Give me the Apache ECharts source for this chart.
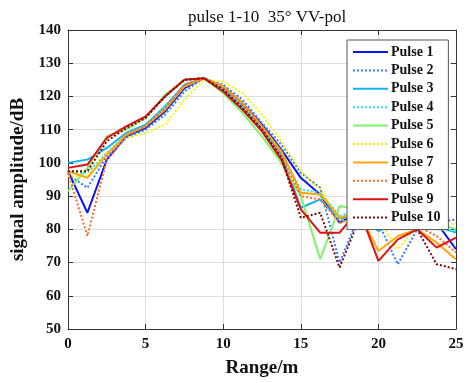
<!DOCTYPE html>
<html>
<head>
<meta charset="utf-8">
<script src="https://cdn.jsdelivr.net/npm/echarts@6/dist/echarts.min.js"></script>
<style>html,body{margin:0;padding:0;background:#fff;}#c{width:474px;height:383px;}</style>
</head>
<body>
<div id="c"></div>
<script>
var rangeM = [0, 1.25, 2.5, 3.75, 5, 6.25, 7.5, 8.75, 10, 11.25, 12.5, 13.75, 15, 16.25, 17.5, 18.75, 20, 21.25, 22.5, 23.75, 25];
var seriesNames = ['Pulse 1','Pulse 2','Pulse 3','Pulse 4','Pulse 5','Pulse 6','Pulse 7','Pulse 8','Pulse 9','Pulse 10'];
var pulse1  = [97.5, 85, 101, 108, 110.5, 115.5, 122.5, 125.5, 123, 118, 111.5, 104, 95.5, 90.5, 82, 85, 80, 82, 83, 82, 74];
var pulse2  = [96.5, 92.5, 102, 107.5, 110, 114.5, 121.5, 125.5, 123.5, 119, 112, 105.5, 97, 92.5, 70, 84, 82, 69.5, 80, 82, 83];
var pulse3  = [100, 101, 104.5, 109, 111.5, 117, 123.5, 125.5, 122.5, 117, 110.5, 102.5, 86.5, 89, 83, 85, 79.5, 82, 83, 81, 79];
var pulse4  = [97, 97, 103, 108.5, 111, 117, 123, 125.5, 122, 117, 110.5, 103, 92, 91, 84, 86, 81, 83, 82, 80, 79.5];
var pulse5  = [91.5, 98.5, 108, 110, 113.5, 120.5, 125, 125.5, 121, 115, 108, 100, 90, 71, 87, 86, 82, 83, 84, 82, 80];
var pulse6  = [96, 96, 103, 107.5, 109, 111.5, 119, 125, 124.5, 121, 114.5, 106.5, 97.5, 92, 83, 80.5, 83, 74, 81, 80, 82];
var pulse7  = [97.5, 95.5, 102.5, 108.5, 111, 116, 123, 125.5, 123, 118, 111, 103.5, 91, 90.5, 83.5, 85, 73.5, 78, 80, 76, 71];
var pulse8  = [97, 78, 101, 108, 111, 116.5, 123.5, 125.5, 122.5, 117.5, 110.5, 102, 90, 89, 82, 84, 81, 80, 81, 78, 73];
var pulse9  = [98.5, 99.5, 107.5, 111, 114, 120, 125, 125.5, 121.5, 116, 109.5, 101, 86, 79, 79, 86, 70.5, 77, 80, 74.5, 77.5];
var pulse10 = [97.5, 97.5, 106.5, 110.5, 113.5, 120, 125, 125.5, 122, 116.5, 110, 101.5, 83.5, 85, 68.5, 83, 81, 82, 80, 69.5, 68];
var allPulses = [pulse1, pulse2, pulse3, pulse4, pulse5, pulse6, pulse7, pulse8, pulse9, pulse10];

var colors = ['#0a14f0', '#3a78ff', '#10b4f4', '#22e6e6', '#7cf46c', '#f6f600', '#ffa70a', '#ff6a2a', '#e01010', '#7a0a0a'];
var dashes = ['solid','dotted','solid','dotted','solid','dotted','solid','dotted','solid','dotted'];

var font = 'Liberation Serif, Times New Roman, serif';
var series = allPulses.map(function (vals, i) {
  return {
    name: seriesNames[i],
    type: 'line',
    symbol: 'none',
    xAxisIndex: 0,
    yAxisIndex: 0,
    data: rangeM.map(function (x, j) { return [x, vals[j]]; }),
    lineStyle: { color: colors[i], width: 2, type: dashes[i] },
    itemStyle: { color: colors[i] },
    animation: false
  };
});

var axisLineStyle = { color: '#333', width: 1 };
var chart = echarts.init(document.getElementById('c'), null, { renderer: 'canvas' });
chart.setOption({
  backgroundColor: '#fff',
  animation: false,
  title: {
    text: 'pulse 1-10  35\u00b0 VV-pol',
    left: 262, top: 4, textAlign: 'center',
    textStyle: { fontFamily: font, fontSize: 17, fontWeight: 'normal', color: '#111' }
  },
  grid: { left: 68, right: 18, top: 30, bottom: 53, containLabel: false },
  legend: {
    data: seriesNames,
    orient: 'vertical',
    left: 347, top: 40,
    itemWidth: 35, itemHeight: 14, itemGap: 4.4,
    padding: [5, 8, 5, 5],
    backgroundColor: '#fff',
    borderColor: '#555', borderWidth: 1, borderRadius: 0,
    itemStyle: { opacity: 0, borderWidth: 0 },
    textStyle: { fontFamily: font, fontSize: 14, fontWeight: 'bold', color: '#111', padding: [0, 0, 0, -2] }
  },
  xAxis: [{
    type: 'value', min: 0, max: 25, interval: 5, position: 'bottom',
    name: 'Range/m', nameLocation: 'middle', nameGap: 30,
    nameTextStyle: { fontFamily: font, fontSize: 19, fontWeight: 'bold', color: '#111' },
    axisLine: { show: true, onZero: false, lineStyle: axisLineStyle },
    axisTick: { show: true, inside: true, length: 5, lineStyle: axisLineStyle },
    axisLabel: { fontFamily: font, fontSize: 15, fontWeight: 'bold', color: '#111', margin: 8 },
    splitLine: { show: true, lineStyle: { color: '#dedede', width: 1 } }
  }, {
    type: 'value', min: 0, max: 25, interval: 5, position: 'top',
    axisLine: { show: true, onZero: false, lineStyle: axisLineStyle },
    axisTick: { show: true, inside: true, length: 5, lineStyle: axisLineStyle },
    axisLabel: { show: false },
    splitLine: { show: false }
  }],
  yAxis: [{
    type: 'value', min: 50, max: 140, interval: 10, position: 'left',
    name: 'signal amplitude/dB', nameLocation: 'middle', nameGap: 38,
    nameTextStyle: { fontFamily: font, fontSize: 19, fontWeight: 'bold', color: '#111' },
    axisLine: { show: true, onZero: false, lineStyle: axisLineStyle },
    axisTick: { show: true, inside: true, length: 5, lineStyle: axisLineStyle },
    axisLabel: { fontFamily: font, fontSize: 15, fontWeight: 'bold', color: '#111', margin: 7 },
    splitLine: { show: true, lineStyle: { color: '#dedede', width: 1 } }
  }, {
    type: 'value', min: 50, max: 140, interval: 10, position: 'right',
    axisLine: { show: true, onZero: false, lineStyle: axisLineStyle },
    axisTick: { show: true, inside: true, length: 5, lineStyle: axisLineStyle },
    axisLabel: { show: false },
    splitLine: { show: false }
  }],
  series: series
});
</script>
</body>
</html>
